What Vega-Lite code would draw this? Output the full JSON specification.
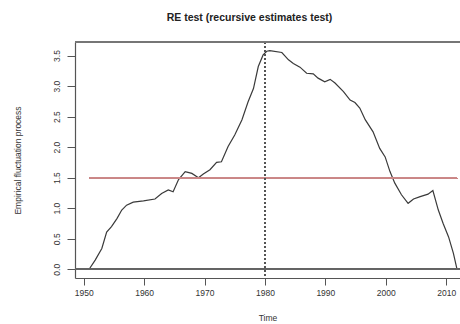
{
  "$schema": "https://vega.github.io/schema/vega-lite/v6.json",
  "width": 385,
  "height": 236,
  "autosize": {"type": "none"},
  "padding": {"left": 75, "top": 42, "right": 0, "bottom": 46},
  "background": "white",
  "config": {
    "font": "Liberation Sans",
    "view": {"stroke": null}
  },
  "title": {"text": "RE test (recursive estimates test)", "font": "Liberation Sans", "fontSize": 10.5, "fontWeight": "bold", "color": "#222", "anchor": "middle", "dx": -18, "offset": 18},
  "data": {"values": [
    {"year": 1950.9, "value": 0.0},
    {"year": 1951.9, "value": 0.15},
    {"year": 1953.0, "value": 0.34},
    {"year": 1953.8, "value": 0.61},
    {"year": 1954.6, "value": 0.70},
    {"year": 1955.5, "value": 0.83},
    {"year": 1956.3, "value": 0.97},
    {"year": 1957.1, "value": 1.05},
    {"year": 1958.2, "value": 1.10},
    {"year": 1959.9, "value": 1.12},
    {"year": 1961.8, "value": 1.15},
    {"year": 1962.9, "value": 1.24},
    {"year": 1964.0, "value": 1.30},
    {"year": 1964.8, "value": 1.27},
    {"year": 1965.7, "value": 1.47},
    {"year": 1966.8, "value": 1.60},
    {"year": 1967.9, "value": 1.57},
    {"year": 1969.0, "value": 1.50},
    {"year": 1969.8, "value": 1.56},
    {"year": 1970.9, "value": 1.63},
    {"year": 1972.0, "value": 1.75},
    {"year": 1972.8, "value": 1.76},
    {"year": 1973.9, "value": 2.01},
    {"year": 1975.0, "value": 2.20},
    {"year": 1976.2, "value": 2.45},
    {"year": 1977.2, "value": 2.74},
    {"year": 1978.1, "value": 2.96},
    {"year": 1978.9, "value": 3.32},
    {"year": 1979.7, "value": 3.51},
    {"year": 1980.3, "value": 3.57},
    {"year": 1980.8, "value": 3.58},
    {"year": 1982.8, "value": 3.55},
    {"year": 1983.9, "value": 3.43},
    {"year": 1984.7, "value": 3.37},
    {"year": 1985.8, "value": 3.31},
    {"year": 1986.9, "value": 3.21},
    {"year": 1988.0, "value": 3.20},
    {"year": 1988.8, "value": 3.13},
    {"year": 1989.9, "value": 3.07},
    {"year": 1990.8, "value": 3.11},
    {"year": 1991.6, "value": 3.05},
    {"year": 1993.0, "value": 2.91},
    {"year": 1994.1, "value": 2.77},
    {"year": 1994.9, "value": 2.73},
    {"year": 1995.7, "value": 2.64},
    {"year": 1996.6, "value": 2.45},
    {"year": 1997.9, "value": 2.25},
    {"year": 1999.0, "value": 1.98},
    {"year": 1999.9, "value": 1.84},
    {"year": 2000.7, "value": 1.60},
    {"year": 2001.5, "value": 1.41},
    {"year": 2002.6, "value": 1.22},
    {"year": 2003.7, "value": 1.08},
    {"year": 2004.6, "value": 1.15},
    {"year": 2005.7, "value": 1.19},
    {"year": 2007.0, "value": 1.23},
    {"year": 2007.8, "value": 1.29},
    {"year": 2008.7, "value": 0.97},
    {"year": 2009.5, "value": 0.75},
    {"year": 2010.4, "value": 0.53},
    {"year": 2011.2, "value": 0.26},
    {"year": 2011.8, "value": 0.0}
  ]},
  "encoding": {
    "x": {
      "field": "year", "type": "quantitative", "title": "Time",
      "scale": {"domain": [1948.56, 2012.29], "nice": false, "zero": false},
      "axis": {"values": [1950, 1960, 1970, 1980, 1990, 2000, 2010], "format": "d", "grid": false, "domain": true, "ticks": true, "domainColor": "#555", "tickColor": "#555", "domainWidth": 1.2, "tickWidth": 1, "tickSize": 7, "labelPadding": 3, "titlePadding": 17, "labelFlush": false, "labelOverlap": false, "labelFont": "Liberation Sans", "labelFontSize": 8.5, "labelColor": "#333", "titleFont": "Liberation Sans", "titleFontSize": 8.5, "titleFontWeight": "normal", "titleColor": "#333"}
    },
    "y": {
      "field": "value", "type": "quantitative", "title": "Empirical fluctuation process",
      "scale": {"domain": [-0.143, 3.722], "nice": false, "zero": false},
      "axis": {"values": [0, 0.5, 1, 1.5, 2, 2.5, 3, 3.5], "format": ".1f", "grid": false, "domain": true, "ticks": true, "domainColor": "#555", "tickColor": "#555", "domainWidth": 1.2, "tickWidth": 1, "tickSize": 8, "labelAngle": 270, "labelAlign": "center", "labelBaseline": "bottom", "labelPadding": 6, "titlePadding": 30, "labelFlush": false, "labelOverlap": false, "labelFont": "Liberation Sans", "labelFontSize": 8.5, "labelColor": "#333", "titleFont": "Liberation Sans", "titleFontSize": 8.5, "titleFontWeight": "normal", "titleColor": "#333"}
    }
  },
  "layer": [
    {
      "mark": {"type": "line", "color": "#3a3a3a", "strokeWidth": 1.2}
    },
    {
      "mark": {"type": "rule", "color": "#666", "strokeWidth": 1},
      "encoding": {"x": null, "y": {"datum": 0, "type": "quantitative"}}
    },
    {
      "mark": {"type": "rule", "color": "#c98686", "strokeWidth": 1.2},
      "encoding": {
        "x": {"datum": 1950.9, "type": "quantitative"},
        "x2": {"datum": 2011.8},
        "y": {"datum": 1.49, "type": "quantitative"}
      }
    },
    {
      "mark": {"type": "rule", "color": "#555", "strokeWidth": 0.9, "strokeDash": [2, 2]},
      "encoding": {"x": {"datum": 1980, "type": "quantitative"}, "y": null}
    },
    {
      "mark": {"type": "rule", "color": "#777", "strokeWidth": 1},
      "encoding": {"x": null, "y": {"datum": 3.722, "type": "quantitative"}}
    }
  ]
}
